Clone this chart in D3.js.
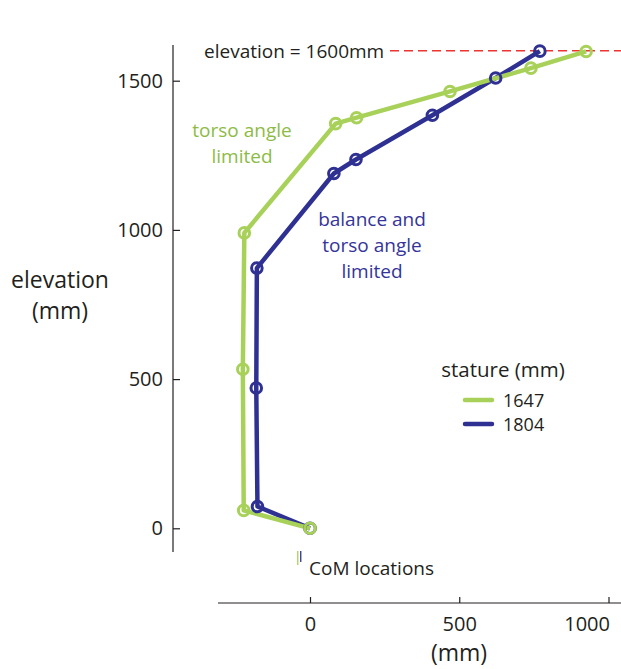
<!DOCTYPE html>
<html>
<head>
<meta charset="utf-8">
<script src="https://cdn.jsdelivr.net/npm/d3@7"></script>
<style>
  body { margin: 0; background: #fff; }
  svg { font-family: "Open Sans", "Noto Sans", sans-serif; }
</style>
</head>
<body>
<svg id="chart" width="621" height="669"></svg>
<script>
// CoM path for each stature, x offset (mm) vs elevation (mm)
const series = ['1647', '1804'];
const x1647 = [0, -222, -225, -220, 86, 156, 469, 740, 925];
const y1647 = [0, 60, 533, 990, 1356, 1376, 1464, 1542, 1598];
const x1804 = [0, -176, -180, -178, 80, 154, 410, 622, 770];
const y1804 = [0, 73, 470, 872, 1189, 1236, 1384, 1509, 1599];
const comX = [-41, -31];
const xTicks = [0, 500, 1000];
const yTicks = [0, 500, 1000, 1500];
const limitElev = 1600;

const colors = { '1647': '#a8d15a', '1804': '#2e3192' };

const svg = d3.select('#chart');

const x = d3.scaleLinear().domain([0, 1000]).range([310, 608.5]);
const y = d3.scaleLinear().domain([0, 1500]).range([528.3, 80.7]);

// y axis
const yAxis = d3.axisLeft(y)
  .tickValues(yTicks)
  .tickFormat(d3.format('d'))
  .tickSizeInner(-7)
  .tickSizeOuter(0)
  .tickPadding(10);
const gy = svg.append('g')
  .attr('transform', 'translate(173,0)')
  .call(yAxis);
gy.select('.domain').remove();
gy.append('line')
  .attr('x1', 0).attr('x2', 0)
  .attr('y1', 45).attr('y2', 552)
  .attr('stroke', '#231f20').attr('stroke-width', 1.2);
gy.selectAll('.tick line').attr('stroke', '#231f20').attr('stroke-width', 1.2);
gy.selectAll('.tick text')
  .attr('font-size', '20px')
  .attr('fill', '#231f20')
  .attr('font-family', '"Open Sans", sans-serif');

// x axis
const xAxis = d3.axisBottom(x)
  .tickValues(xTicks)
  .tickFormat(d3.format('d'))
  .tickSizeInner(-6)
  .tickSizeOuter(0)
  .tickPadding(14);
const gx = svg.append('g')
  .attr('transform', 'translate(0,603)')
  .call(xAxis);
gx.select('.domain').remove();
gx.append('line')
  .attr('x1', 218).attr('x2', 621)
  .attr('y1', 0).attr('y2', 0)
  .attr('stroke', '#231f20').attr('stroke-width', 1.2);
gx.selectAll('.tick line').attr('stroke', '#231f20').attr('stroke-width', 1.2);
gx.selectAll('.tick text')
  .attr('font-size', '20px')
  .attr('fill', '#231f20')
  .attr('font-family', '"Open Sans", sans-serif')
  .attr('text-anchor', d => d === 1000 ? 'end' : 'middle')
  .attr('x', d => d === 1000 ? 1 : 0);

// axis titles
svg.append('text')
  .attr('x', 459).attr('y', 661)
  .attr('text-anchor', 'middle')
  .attr('font-size', '23px').attr('fill', '#231f20')
  .text('(mm)');

const ylab = svg.append('text')
  .attr('text-anchor', 'middle')
  .attr('font-size', '23px').attr('fill', '#231f20');
ylab.append('tspan').attr('x', 60).attr('y', 288).text('elevation');
ylab.append('tspan').attr('x', 60).attr('y', 319).text('(mm)');

// elevation limit line
svg.append('line')
  .attr('x1', 390).attr('x2', 621)
  .attr('y1', y(limitElev)).attr('y2', y(limitElev))
  .attr('stroke', '#ee3333')
  .attr('stroke-width', 1.5)
  .attr('stroke-dasharray', '9,5');
svg.append('text')
  .attr('x', 204).attr('y', 58)
  .attr('font-size', '19px').attr('fill', '#231f20')
  .text('elevation = 1600mm');

const data = {
  '1647': x1647.map((d, i) => [d, y1647[i]]),
  '1804': x1804.map((d, i) => [d, y1804[i]])
};

const line = d3.line()
  .x(d => x(d[0]))
  .y(d => y(d[1]));

['1804', '1647'].forEach(s => {
  svg.append('path')
    .datum(data[s])
    .attr('d', line)
    .attr('fill', 'none')
    .attr('stroke', colors[s])
    .attr('stroke-width', 4.5)
    .attr('stroke-linejoin', 'round');
});

['1804', '1647'].forEach(s => {
  svg.append('g')
    .selectAll('circle')
    .data(data[s])
    .enter()
    .append('circle')
    .attr('cx', d => x(d[0]))
    .attr('cy', d => y(d[1]))
    .attr('r', 5.3)
    .attr('fill', 'none')
    .attr('stroke', colors[s])
    .attr('stroke-width', 3);
});

// CoM location marks
svg.selectAll('.com')
  .data(comX)
  .enter()
  .append('line')
  .attr('class', 'com')
  .attr('x1', d => x(d)).attr('x2', d => x(d))
  .attr('y1', 551)
  .attr('y2', (d, i) => i === 0 ? 565 : 562)
  .attr('stroke', (d, i) => colors[series[i]])
  .attr('stroke-width', 1.3);
svg.append('text')
  .attr('x', 309).attr('y', 575)
  .attr('font-size', '19px').attr('fill', '#231f20')
  .text('CoM locations');

// annotations
const tg = svg.append('text')
  .attr('text-anchor', 'middle')
  .attr('font-size', '19px').attr('fill', '#8dbb45');
tg.append('tspan').attr('x', 242).attr('y', 137).text('torso angle');
tg.append('tspan').attr('x', 242).attr('y', 163).text('limited');

const tb = svg.append('text')
  .attr('text-anchor', 'middle')
  .attr('font-size', '19px').attr('fill', '#34349a');
tb.append('tspan').attr('x', 372).attr('y', 226).text('balance and');
tb.append('tspan').attr('x', 372).attr('y', 252).text('torso angle');
tb.append('tspan').attr('x', 372).attr('y', 278).text('limited');

// legend
svg.append('text')
  .attr('x', 503).attr('y', 377)
  .attr('text-anchor', 'middle')
  .attr('font-size', '20.5px').attr('fill', '#231f20')
  .text('stature (mm)');
const leg = svg.append('g')
  .selectAll('g')
  .data(series)
  .enter()
  .append('g')
  .attr('transform', (d, i) => 'translate(0,' + (400 + 24 * i) + ')');
leg.append('line')
  .attr('x1', 465).attr('x2', 492)
  .attr('stroke', d => colors[d])
  .attr('stroke-width', 4.5)
  .attr('stroke-linecap', 'round');
leg.append('text')
  .attr('x', 503).attr('y', 6.5)
  .attr('font-size', '18px').attr('fill', '#231f20')
  .text(d => d);
</script>
</body>
</html>
